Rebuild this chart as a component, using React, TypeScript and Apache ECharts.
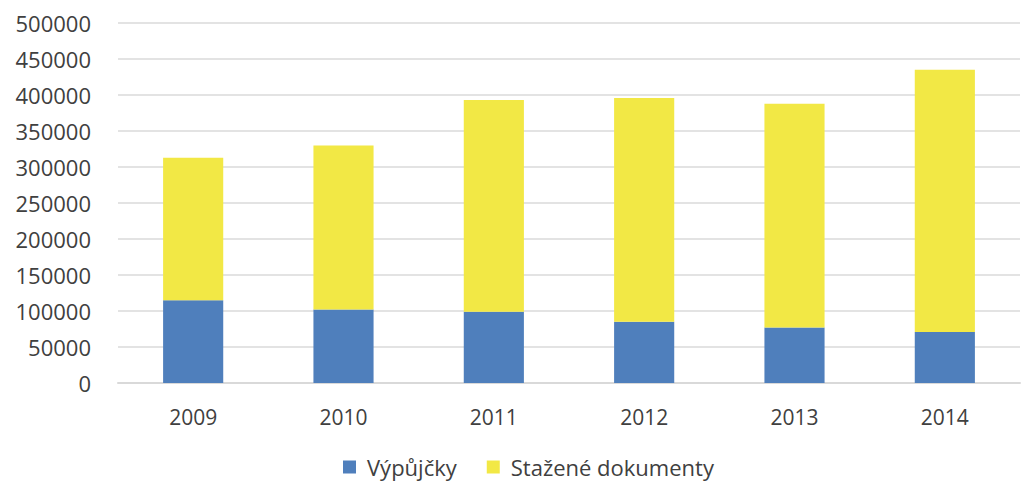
import React, { useEffect, useRef } from "react";
import * as echarts from "echarts";

const years = ["2009", "2010", "2011", "2012", "2013", "2014"];
const vypujcky = [115000, 102000, 99000, 85000, 77000, 71000];
const stazene = [198000, 228000, 294000, 311000, 311000, 364000];
const seriesNames = ["Výpůjčky", "Stažené dokumenty"];

const FONT = "'Open Sans', 'Noto Sans', sans-serif";

export default function App() {
  const ref = useRef<HTMLDivElement>(null);
  useEffect(() => {
    document.body.style.margin = "0";
    const chart = echarts.init(ref.current!, null, { renderer: "svg" });
    chart.setOption({
      animation: false,
      backgroundColor: "#ffffff",
      grid: { left: 118, right: 4, top: 23, bottom: 105 },
      legend: {
        data: seriesNames,
        top: 456,
        left: 343,
        padding: 0,
        icon: "rect",
        itemWidth: 13,
        itemHeight: 13,
        itemGap: 30,
        textStyle: { fontFamily: FONT, fontSize: 22, color: "#404040", padding: [0, 0, 0, 6] },
      },
      xAxis: {
        type: "category",
        data: years,
        axisTick: { show: false },
        axisLine: { lineStyle: { color: "#d9d9d9", width: 2 } },
        axisLabel: { fontFamily: FONT, fontSize: 21, color: "#404040", margin: 23 },
      },
      yAxis: {
        type: "value",
        min: 0,
        max: 500000,
        interval: 50000,
        axisLine: { show: false },
        axisTick: { show: false },
        splitLine: { lineStyle: { color: "#e3e3e3", width: 2 } },
        axisLabel: {
          fontFamily: FONT,
          fontSize: 22,
          color: "#404040",
          margin: 27,
          formatter: (v: number) => String(v),
        },
      },
      series: [
        {
          name: seriesNames[0],
          type: "bar",
          stack: "total",
          data: vypujcky,
          barWidth: "40%",
          itemStyle: { color: "#4f7fbc" },
        },
        {
          name: seriesNames[1],
          type: "bar",
          stack: "total",
          data: stazene,
          barWidth: "40%",
          itemStyle: { color: "#f2e845" },
        },
      ],
    });
    return () => chart.dispose();
  }, []);
  return <div ref={ref} style={{ width: 1024, height: 488 }} />;
}
